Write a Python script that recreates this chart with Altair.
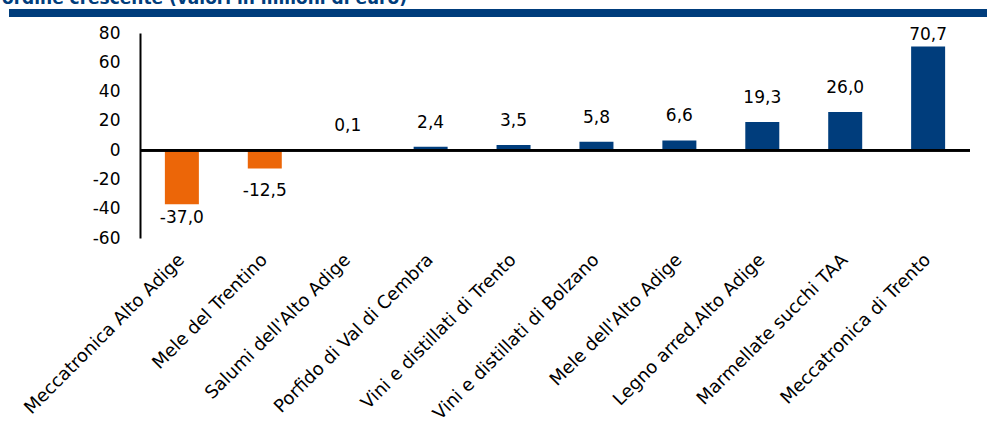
import altair as alt
import pandas as pd

categories = [
    "Meccatronica Alto Adige", "Mele del Trentino", "Salumi dell'Alto Adige",
    "Porfido di Val di Cembra", "Vini e distillati di Trento", "Vini e distillati di Bolzano",
    "Mele dell'Alto Adige", "Legno arred.Alto Adige", "Marmellate succhi TAA",
    "Meccatronica di Trento",
]
values = [-37.0, -12.5, 0.1, 2.4, 3.5, 5.8, 6.6, 19.3, 26.0, 70.7]
y_ticks = [-60, -40, -20, 0, 20, 40, 60, 80]
title_text = ["ordine crescente (valori in milioni di euro)"]

BLUE = "#003D7C"
ORANGE = "#EC6608"
FONT = "DejaVu Sans"

df = pd.DataFrame({"cat": categories, "v": values})
deco = pd.DataFrame({"t": title_text})

xaxis = alt.Axis(title=None, domain=False, ticks=False, labelAngle=-45,
                 labelAlign="right", labelBaseline="middle", labelPadding=19,
                 labelFontSize=18, labelFont=FONT, labelColor="black", labelLimit=400,
                 labelOverlap=False)
yaxis = alt.Axis(title=None, values=y_ticks, grid=False,
                 ticks=False, domainColor="black", domainWidth=2,
                 labelFontSize=17, labelFont=FONT, labelColor="black",
                 labelOverlap=False, labelSeparation=0,
                 labelPadding=20, format="d")
xscale = alt.Scale(paddingInner=0.59, paddingOuter=0.3)
yscale = alt.Scale(domain=[-60, 80], nice=False)

base = alt.Chart(df).transform_calculate(
    lbl="(datum.v < 0 ? '-' : '') + replace(format(abs(datum.v), '.1f'), '.', ',')",
    ly="datum.v >= 0 ? min(datum.v, 62) : max(datum.v, -30.3)",
    z="0",
)

bars = base.mark_bar().encode(
    x=alt.X("cat:N", sort=categories, scale=xscale, axis=xaxis),
    y=alt.Y("v:Q", scale=yscale, axis=yaxis),
    color=alt.condition("datum.v < 0", alt.value(ORANGE), alt.value(BLUE)),
)

zero = base.mark_rule(color="black", strokeWidth=2).encode(
    y=alt.Y("z:Q", scale=yscale, axis=yaxis)
)

pos_labels = base.transform_filter("datum.v >= 0").mark_text(
    baseline="bottom", dy=-15, fontSize=17, font=FONT, color="black"
).encode(
    x=alt.X("cat:N", sort=categories, scale=xscale, axis=xaxis),
    y=alt.Y("ly:Q", scale=yscale, axis=yaxis), text="lbl:N"
)

neg_labels = base.transform_filter("datum.v < 0").mark_text(
    baseline="top", dy=15, fontSize=17, font=FONT, color="black"
).encode(
    x=alt.X("cat:N", sort=categories, scale=xscale, axis=xaxis),
    y=alt.Y("ly:Q", scale=yscale, axis=yaxis), text="lbl:N"
)

band = alt.Chart(deco).mark_rect(color=BLUE).encode(
    x=alt.value(-131), x2=alt.value(847), y=alt.value(-24), y2=alt.value(-16)
)
title = alt.Chart(deco).mark_text(
    align="left", baseline="alphabetic", fontSize=17, fontWeight="bold", font=FONT, color=BLUE
).encode(x=alt.value(-138), y=alt.value(-29), text="t:N")

chart = alt.layer(bars, zero, pos_labels, neg_labels, band, title).properties(
    width=830, height=205,
    background="white",
    autosize=alt.AutoSizeParams(type="none"),
    padding={"left": 140, "top": 33, "right": 17, "bottom": 185},
    usermeta={"embedOptions": {"formatLocale": {
        "decimal": ",", "thousands": ".", "grouping": [3],
        "currency": ["", " €"], "minus": "-"}}},
).configure_view(strokeWidth=0, stroke="transparent").configure_axisY(labelOverlap=False)

chart.save("out.html", embed_options={"renderer": "svg", "actions": False})
